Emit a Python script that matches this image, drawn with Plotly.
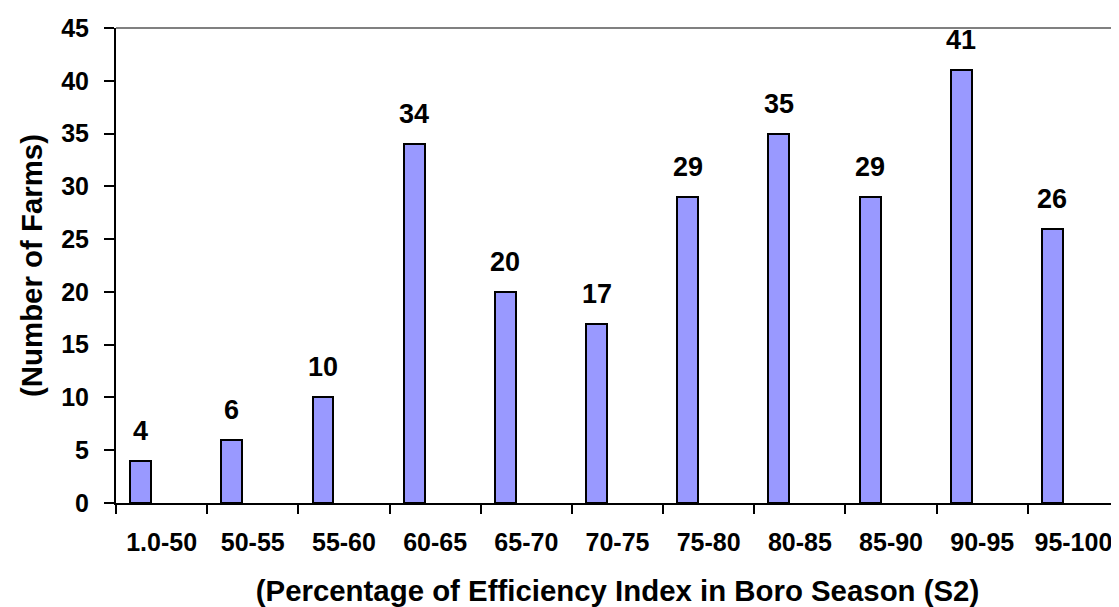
import plotly.graph_objects as go

categories = ["1.0-50", "50-55", "55-60", "60-65", "65-70", "70-75",
              "75-80", "80-85", "85-90", "90-95", "95-100"]
farms = [4, 6, 10, 34, 20, 17, 29, 35, 29, 41, 26]
y_ticks = [0, 5, 10, 15, 20, 25, 30, 35, 40, 45]

FONT = "Liberation Sans, Arial, sans-serif"
BAR_W = 0.23
BAR_OFF = -0.345
PLOT_W = 1003

fig = go.Figure()
fig.add_trace(go.Bar(
    x=categories, y=farms,
    width=BAR_W, offset=BAR_OFF,
    marker=dict(color="#9999FF", line=dict(color="black", width=2)),
    showlegend=False, hoverinfo="x+y",
))

for c, v in zip(categories, farms):
    fig.add_annotation(
        x=c, y=v, xref="x", yref="y", text=str(v), showarrow=False,
        xanchor="center", yanchor="bottom",
        xshift=(BAR_OFF + BAR_W / 2) * (PLOT_W / 11), yshift=13,
        font=dict(family=FONT, size=27, color="black", weight="bold"),
    )

# grey plot-area border on top
fig.add_shape(type="line", xref="paper", yref="paper", x0=0, x1=1, y0=1, y1=1,
              line=dict(color="#808080", width=2))

# the page body adds an 8px margin, so the figure is drawn 8px smaller/shifted
fig.update_layout(
    width=1111, height=599,
    margin=dict(l=108, r=0, t=20, b=104, autoexpand=False),
    paper_bgcolor="white", plot_bgcolor="white",
    font=dict(family=FONT, color="black", weight="bold"),
    bargap=0,
)
fig.update_xaxes(
    type="category", categoryorder="array", categoryarray=categories,
    showline=True, linecolor="black", linewidth=2,
    ticks="outside", tickson="boundaries", ticklen=9, tickwidth=2, tickcolor="black",
    tickfont=dict(family=FONT, size=25, color="black", weight="bold"),
    ticklabelstandoff=16,
    showgrid=False, zeroline=False, automargin=False,
    title=dict(text="(Percentage of Efficiency Index in Boro Season (S2)",
               font=dict(family=FONT, size=29.4, color="black", weight="bold"),
               standoff=28),
)
fig.update_yaxes(
    range=[0, 45], tickvals=y_ticks,
    showline=True, linecolor="black", linewidth=2,
    ticks="outside", ticklen=10, tickwidth=2, tickcolor="black",
    tickfont=dict(family=FONT, size=25, color="black", weight="bold"),
    ticklabelstandoff=10,
    showgrid=False, zeroline=False, automargin=False,
    title=dict(text="(Number of Farms)",
               font=dict(family=FONT, size=29.4, color="black", weight="bold"),
               standoff=10),
)

fig.write_html("out.html")
